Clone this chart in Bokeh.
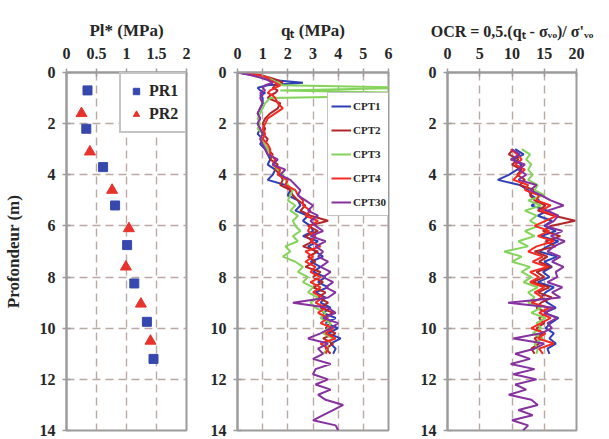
from bokeh.plotting import figure
from bokeh.layouts import row
from bokeh.models import Range1d, FixedTicker
from bokeh.embed import file_html
from bokeh.resources import INLINE

# ---------------- data ----------------
# Panel 1: pressiometer limit pressure Pl* (MPa) vs depth (m)
PR1_DEPTH = [0.7, 2.2, 3.7, 5.2, 6.75, 8.25, 9.75, 11.2]
PR1_PL = [0.35, 0.33, 0.61, 0.81, 1.01, 1.13, 1.34, 1.45]
PR2_DEPTH = [1.6, 3.1, 4.6, 6.1, 7.6, 9.05, 10.5]
PR2_PL = [0.25, 0.39, 0.76, 1.04, 0.99, 1.24, 1.40]

# Panel 2: cone resistance q_t (MPa) vs depth (m)
D_QT = [0.0, 0.1, 0.2, 0.3, 0.4, 0.5, 0.6, 0.7, 0.8, 0.9, 1.0,
        1.2, 1.4, 1.6, 1.8, 2.0, 2.2, 2.4, 2.6, 2.8, 3.0,
        3.2, 3.4, 3.6, 3.8, 4.0, 4.2, 4.4, 4.6, 4.8, 5.0,
        5.2, 5.4, 5.6, 5.8, 6.0, 6.2, 6.4, 6.6, 6.8, 7.0,
        7.2, 7.4, 7.6, 7.8, 8.0, 8.2, 8.4, 8.6, 8.8, 9.0,
        9.2, 9.4, 9.6, 9.8, 10.0, 10.2, 10.4, 10.6, 10.8, 11.0]
D_QT30 = D_QT + [11.2, 11.4, 11.6, 11.8, 12.0, 12.2, 12.4, 12.6, 12.8, 13.0,
                 13.2, 13.4, 13.6, 13.8, 14.0]

CPT1_QT = [0.0, 0.6, 1.0, 1.5, 2.6, 1.2, 0.8, 0.9, 1.1, 0.9, 1.0,
           1.0, 0.9, 0.8, 0.9, 0.8, 0.9, 0.8, 1.0, 0.9, 1.1,
           1.2, 1.3, 1.2, 1.5, 1.4, 1.2, 1.9, 2.1, 2.0, 2.4,
           2.5, 2.3, 2.8, 2.6, 2.9, 3.0, 2.6, 3.2, 2.8, 3.1,
           3.4, 2.9, 3.3, 3.0, 3.5, 3.2, 3.6, 3.1, 3.5, 3.3,
           3.7, 3.4, 3.9, 3.5, 4.0, 3.6, 4.1, 3.7, 3.9, 3.8]
CPT2_QT = [0.0, 0.9, 1.3, 1.6, 1.8, 1.5, 1.4, 1.6, 1.5, 1.3, 1.2,
           1.7, 1.6, 1.3, 1.1, 1.0, 1.1, 1.0, 1.2, 1.1, 1.2,
           1.4, 1.3, 1.6, 1.5, 1.7, 1.8, 1.7, 2.1, 2.2, 2.4,
           2.7, 2.5, 2.9, 3.6, 2.8, 3.2, 2.7, 3.0, 2.6, 3.2,
           2.8, 3.1, 2.7, 3.3, 3.0, 3.4, 3.0, 3.5, 3.2, 3.6,
           3.3, 3.8, 3.4, 3.7, 3.5, 3.9, 3.4, 3.8, 3.5, 3.7]
CPT3_QT = [0.0, 0.7, 1.2, 1.4, 1.6, 1.8, 7.0, 1.7, 7.0, 7.0, 1.3,
           1.1, 1.0, 0.9, 0.8, 0.9, 0.8, 1.0, 0.9, 1.1, 1.2,
           1.3, 1.5, 1.4, 1.6, 1.8, 1.9, 2.0, 2.2, 2.1, 2.0,
           2.3, 2.1, 2.4, 2.2, 2.3, 2.5, 2.2, 2.4, 1.9, 2.1,
           1.8, 2.3, 2.6, 2.4, 2.8, 2.6, 3.0, 2.8, 3.2, 2.9,
           3.1, 3.5, 3.3, 3.7, 3.6, 3.4, 3.8, 3.5, 3.6, 3.4]
CPT4_QT = [0.0, 0.8, 1.2, 1.3, 1.5, 1.7, 1.5, 1.3, 1.2, 1.4, 1.5,
           1.6, 1.8, 1.5, 1.2, 1.1, 1.0, 1.1, 1.0, 1.2, 1.3,
           1.3, 1.5, 1.4, 1.7, 1.6, 2.0, 1.9, 2.3, 2.4, 2.6,
           2.6, 2.9, 2.7, 3.2, 2.9, 2.8, 3.1, 2.9, 3.3, 2.7,
           3.0, 2.7, 3.1, 2.9, 3.3, 2.9, 3.3, 3.0, 3.4, 3.1,
           3.5, 3.2, 3.6, 3.3, 3.8, 3.5, 3.9, 3.3, 3.6, 3.5]
CPT30_QT = [0.0, 0.5, 0.9, 1.2, 1.4, 1.1, 1.0, 1.1, 0.9, 1.0, 0.9,
            1.0, 0.9, 0.8, 0.9, 0.8, 0.9, 1.0, 0.9, 1.0, 1.1,
            1.2, 1.6, 1.4, 1.9, 1.7, 2.1, 2.3, 2.5, 2.4, 2.7,
            3.0, 2.8, 3.2, 2.9, 3.1, 3.4, 2.9, 3.5, 3.1, 3.4,
            3.2, 3.6, 3.3, 3.7, 3.4, 3.8, 3.5, 3.9, 3.6, 2.2,
            3.6, 3.9, 3.4, 4.0, 3.7, 3.3, 2.8, 3.6, 3.2, 3.4,
            3.0, 3.7, 3.1, 3.0, 3.6, 3.1, 3.7, 3.2, 3.5, 4.2,
            3.8, 3.4, 3.0, 3.9, 4.0]

# Panel 3: OCR vs depth (m)
D_OCR = [3.0, 3.2, 3.4, 3.6, 3.8, 4.0, 4.2, 4.4, 4.6, 4.8,
         5.0, 5.2, 5.4, 5.6, 5.8, 6.0, 6.2, 6.4, 6.6, 6.8,
         7.0, 7.2, 7.4, 7.6, 7.8, 8.0, 8.2, 8.4, 8.6, 8.8,
         9.0, 9.2, 9.4, 9.6, 9.8, 10.0, 10.2, 10.4, 10.6, 10.8, 11.0]
D_OCR30 = D_OCR + [11.2, 11.4, 11.6, 11.8, 12.0, 12.2, 12.4, 12.6, 12.8, 13.0,
                   13.2, 13.4, 13.6, 13.8, 14.0]

CPT1_OCR = [10.5, 11.8, 10.2, 11.5, 10.8, 9.5, 7.8, 11.2, 12.5, 13.0,
            14.2, 13.0, 15.5, 14.0, 16.2, 15.0, 16.8, 14.5, 17.2, 15.5,
            14.2, 17.0, 15.0, 16.2, 14.8, 15.8, 14.0, 16.5, 15.2, 14.5,
            15.5, 16.8, 15.0, 17.2, 16.0, 15.2, 16.5, 15.8, 16.8, 15.5, 15.8]
CPT2_OCR = [10.2, 9.5, 11.0, 10.0, 11.5, 10.8, 12.0, 11.2, 13.5, 12.8,
            13.5, 15.2, 14.0, 16.5, 19.8, 16.0, 14.8, 17.5, 15.2, 16.8,
            13.5, 15.5, 14.2, 16.0, 13.8, 15.0, 13.2, 15.8, 14.0, 16.2,
            14.5, 13.8, 15.5, 14.2, 15.0, 13.8, 14.8, 13.5, 14.2, 13.0, 13.5]
CPT3_OCR = [11.5, 12.8, 12.2, 13.0, 12.5, 13.2, 12.5, 14.0, 13.5, 15.0,
            12.5, 14.5, 12.0, 13.8, 12.8, 14.2, 12.0, 13.5, 11.0, 12.5,
            8.8, 11.5, 10.0, 12.8, 11.5, 13.0, 11.8, 14.0, 12.5, 13.5,
            12.5, 14.5, 13.0, 15.2, 13.8, 14.5, 13.2, 14.8, 13.5, 14.0, 13.8]
CPT4_OCR = [9.8, 10.8, 11.5, 10.5, 12.0, 11.0, 10.2, 12.5, 12.0, 14.2,
            13.8, 16.0, 14.5, 17.0, 15.2, 13.5, 15.8, 14.0, 16.5, 13.8,
            12.5, 14.8, 13.2, 15.5, 12.8, 14.2, 12.8, 15.0, 13.5, 14.8,
            13.0, 15.8, 14.2, 16.0, 14.5, 13.0, 15.2, 14.0, 16.5, 14.2, 14.8]
CPT30_OCR = [10.0, 11.2, 9.8, 12.0, 11.0, 12.2, 11.0, 13.8, 12.8, 14.5,
             16.0, 18.0, 15.5, 17.2, 16.5, 15.2, 17.8, 16.0, 18.2, 16.5,
             15.5, 17.5, 16.2, 18.0, 16.8, 17.0, 15.5, 17.8, 16.2, 17.5,
             9.4, 16.5, 15.0, 17.0, 15.5, 16.2, 14.5, 10.2, 15.0, 13.5,
             10.5, 12.8, 9.8, 13.5, 10.2, 13.8, 10.5, 12.2, 9.5, 13.0,
             14.0, 11.0, 13.2, 10.0, 12.5, 11.7]

SERIES = ["CPT1", "CPT2", "CPT3", "CPT4", "CPT30"]
COLORS = ["#2f3fb5", "#b3262a", "#84d35a", "#f52a22", "#86319f"]

Y_TICKS = [0, 2, 4, 6, 8, 10, 12, 14]
X1_TICKS = [0, 0.5, 1, 1.5, 2]
X1_LABELS = ["0", "0.5", "1", "1.5", "2"]
X2_TICKS = [0, 1, 2, 3, 4, 5, 6]
X3_TICKS = [0, 5, 10, 15, 20]

TITLE1 = "Pl* (MPa)"
TITLE2 = "q\u209c (MPa)"
TITLE3 = "OCR = 0,5.(q\u209c - \u03c3\u1d65\u2092)/ \u03c3'\u1d65\u2092"
YLABEL = "Profondeur (m)"

# ---------------- style ----------------
FONT = "Liberation Serif"
TXT = "#262626"
FRAME = "#9c9c9c"
GRID = "#bba9a4"
H = 439


def make_fig(width, bl, br, xr, xticks, title):
    p = figure(width=width, height=H, x_range=Range1d(*xr), y_range=Range1d(14, 0),
               x_axis_location="above", output_backend="svg", toolbar_location=None,
               min_border_left=bl, min_border_right=br, min_border_top=72,
               min_border_bottom=9, background_fill_color="white",
               border_fill_color="white")
    p.outline_line_color = FRAME
    p.outline_line_width = 2
    p.xaxis.ticker = FixedTicker(ticks=xticks)
    p.yaxis.ticker = FixedTicker(ticks=Y_TICKS)
    p.xaxis.axis_label = title
    for ax in (p.xaxis[0], p.yaxis[0]):
        ax.axis_line_color = FRAME
        ax.axis_line_width = 2
        ax.major_tick_line_color = FRAME
        ax.major_tick_line_width = 1.5
        ax.major_tick_in = 4
        ax.major_tick_out = 4
        ax.minor_tick_line_color = None
        ax.major_label_text_font = FONT
        ax.major_label_text_font_style = "bold"
        ax.major_label_text_font_size = "16px"
        ax.major_label_text_color = TXT
        ax.axis_label_text_font = FONT
        ax.axis_label_text_font_style = "bold"
        ax.axis_label_text_font_size = "17px"
        ax.axis_label_text_color = TXT
    p.xaxis.major_label_standoff = 10
    p.xaxis.axis_label_standoff = 5
    p.yaxis.major_label_standoff = 7
    p.grid.grid_line_color = GRID
    p.grid.grid_line_width = 1.4
    p.grid.grid_line_dash = "8 5"
    return p


# Panel 1
p1 = make_fig(207, 65, 21, (0, 2), X1_TICKS, TITLE1)
p1.xaxis.major_label_overrides = {t: l for t, l in zip(X1_TICKS, X1_LABELS)}
p1.yaxis.axis_label = YLABEL
p1.yaxis.axis_label_standoff = 14
p1.scatter(PR1_PL, PR1_DEPTH, marker="square", size=9, color="#3648ad",
           legend_label="PR1")
p1.scatter(PR2_PL, PR2_DEPTH, marker="triangle", size=11, color="#e8332c",
           legend_label="PR2")
lg1 = p1.legend[0]
lg1.location = (53, 297)
lg1.label_text_font = FONT
lg1.label_text_font_style = "bold"
lg1.label_text_font_size = "16px"
lg1.label_text_color = TXT
lg1.label_height = 20
lg1.glyph_height = 20
lg1.glyph_width = 16
lg1.label_standoff = 5
lg1.spacing = 3
lg1.padding = 7
lg1.margin = 0
lg1.border_line_color = "#8a8a8a"
lg1.border_line_width = 2
lg1.background_fill_alpha = 1

# Panel 2
p2 = make_fig(210, 30, 29, (0, 6), X2_TICKS, TITLE2)
QT = [CPT1_QT, CPT2_QT, CPT3_QT, CPT4_QT, CPT30_QT]
for name, col, vals in zip(SERIES, COLORS, QT):
    d = D_QT30 if name == "CPT30" else D_QT
    p2.line(vals, d, line_color=col, line_width=2, legend_label=name)
lg2 = p2.legend[0]
lg2.location = (90, 214)
lg2.label_text_font = FONT
lg2.label_text_font_style = "bold"
lg2.label_text_font_size = "11px"
lg2.label_text_color = TXT
lg2.label_height = 20
lg2.glyph_height = 20
lg2.glyph_width = 20
lg2.label_standoff = 2
lg2.spacing = 4
lg2.padding = 3
lg2.margin = 0
lg2.border_line_color = "#8a8a8a"
lg2.border_line_width = 1.5
lg2.background_fill_alpha = 1

# Panel 3
p3 = make_fig(192, 29, 33, (0, 20), X3_TICKS, TITLE3)
p3.xaxis.axis_label_text_font_size = "16px"
OCR = [CPT1_OCR, CPT2_OCR, CPT3_OCR, CPT4_OCR, CPT30_OCR]
for name, col, vals in zip(SERIES, COLORS, OCR):
    d = D_OCR30 if name == "CPT30" else D_OCR
    p3.line(vals, d, line_color=col, line_width=2)

layout = row(p1, p2, p3)
open("out.html", "w").write(file_html(layout, INLINE))
